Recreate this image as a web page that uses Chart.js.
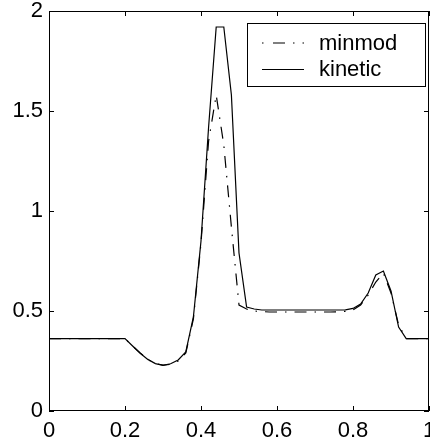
<!DOCTYPE html>
<html>
<head>
<meta charset="utf-8">
<script src="https://cdn.jsdelivr.net/npm/chart.js@4/dist/chart.umd.min.js"></script>
<style>
html,body{margin:0;padding:0;background:#fff;}
#wrap{width:430px;height:446px;position:relative;}
</style>
</head>
<body>
<div id="wrap"><canvas id="c" width="430" height="446"></canvas></div>
<script>
const xs = [0,0.02,0.04,0.06,0.08,0.10,0.12,0.14,0.16,0.18,0.20,
  0.22,0.24,0.26,0.28,0.30,0.32,0.34,0.36,0.38,0.40,
  0.42,0.44,0.46,0.48,0.50,0.52,0.54,0.56,0.58,0.60,
  0.62,0.64,0.66,0.68,0.70,0.72,0.74,0.76,0.78,0.80,
  0.82,0.84,0.86,0.88,0.90,0.92,0.94,0.96,0.98,1.00];
const kinetic = [0.362,0.362,0.362,0.362,0.362,0.362,0.362,0.362,0.362,0.362,0.362,
  0.325,0.289,0.258,0.237,0.228,0.236,0.255,0.295,0.47,0.85,
  1.42,1.92,1.92,1.58,0.79,0.52,0.51,0.505,0.505,0.505,
  0.505,0.505,0.505,0.505,0.505,0.505,0.505,0.505,0.506,0.513,
  0.535,0.59,0.68,0.70,0.60,0.42,0.362,0.362,0.362,0.362];
const minmod = [0.362,0.362,0.362,0.362,0.362,0.362,0.362,0.362,0.362,0.362,0.362,
  0.325,0.29,0.258,0.238,0.229,0.233,0.25,0.29,0.46,0.84,
  1.35,1.58,1.33,0.92,0.53,0.51,0.5,0.497,0.495,0.495,
  0.495,0.495,0.495,0.495,0.495,0.495,0.495,0.496,0.498,0.505,
  0.53,0.58,0.645,0.69,0.59,0.43,0.362,0.362,0.362,0.362];
const xTicks = [0,0.2,0.4,0.6,0.8,1];
const yTicks = [0,0.5,1,1.5,2];
const seriesNames = ['minmod','kinetic'];

const FONT = '"Liberation Sans", Arial, sans-serif';
const DASH = [12,8,1.5,8];

const frame = {
  id:'frame',
  afterDatasetsDraw(chart){
    const {ctx, chartArea:a, scales:{x,y}} = chart;
    ctx.save();
    ctx.strokeStyle='#000'; ctx.lineWidth=1;
    ctx.strokeRect(a.left+0.5, a.top+0.5, a.right-a.left-1, a.bottom-a.top-1);
    ctx.beginPath();
    const L=5;
    xTicks.forEach(v=>{
      const px=Math.round(x.getPixelForValue(v))+0.5;
      ctx.moveTo(px,a.bottom); ctx.lineTo(px,a.bottom-L);
      ctx.moveTo(px,a.top); ctx.lineTo(px,a.top+L);
    });
    yTicks.forEach(v=>{
      const py=Math.round(y.getPixelForValue(v))+0.5;
      ctx.moveTo(a.left,py); ctx.lineTo(a.left+L,py);
      ctx.moveTo(a.right,py); ctx.lineTo(a.right-L,py);
    });
    ctx.stroke();
    // legend
    const bx=247, by=23, bw=178, bh=63;
    ctx.fillStyle='#fff';
    ctx.fillRect(bx,by,bw,bh);
    ctx.strokeRect(bx+0.5,by+0.5,bw,bh);
    ctx.lineWidth=1.2;
    ctx.beginPath(); ctx.setLineDash([1.5,9.5,12,8,1.5,8]);
    ctx.moveTo(262,43); ctx.lineTo(304,43); ctx.stroke();
    ctx.setLineDash([]);
    ctx.beginPath(); ctx.moveTo(262,69.5); ctx.lineTo(304,69.5); ctx.stroke();
    ctx.fillStyle='#000';
    ctx.font='22px '+FONT;
    ctx.textBaseline='middle'; ctx.textAlign='left';
    ctx.fillText(seriesNames[0],319,44);
    ctx.fillText(seriesNames[1],319,70);
    ctx.restore();
  }
};

new Chart(document.getElementById('c'),{
  type:'line',
  data:{
    datasets:[
      {label:seriesNames[0], data:xs.map((v,i)=>({x:v,y:minmod[i]})), borderColor:'#000', borderWidth:1.2, borderDash:DASH, pointRadius:0, tension:0, fill:false},
      {label:seriesNames[1], data:xs.map((v,i)=>({x:v,y:kinetic[i]})), borderColor:'#000', borderWidth:1.2, pointRadius:0, tension:0, fill:false}
    ]
  },
  options:{
    responsive:false, animation:false, events:[],
    layout:{padding:{top:11,right:1,left:0,bottom:0}},
    plugins:{legend:{display:false}, tooltip:{enabled:false}},
    scales:{
      x:{type:'linear', min:0, max:1,
        afterBuildTicks:s=>{s.ticks=xTicks.map(v=>({value:v}));},
        afterFit:s=>{s.height=35; s.paddingLeft=0; s.paddingRight=0;},
        grid:{display:false, drawTicks:false}, border:{display:false},
        ticks:{color:'#000', font:{family:FONT,size:22}, padding:7, maxRotation:0, autoSkip:false,
          callback:v=>String(v)}},
      y:{type:'linear', min:0, max:2,
        afterBuildTicks:s=>{s.ticks=yTicks.map(v=>({value:v}));},
        afterFit:s=>{s.width=49; s.paddingTop=0; s.paddingBottom=0;},
        grid:{display:false, drawTicks:false}, border:{display:false},
        ticks:{color:'#000', font:{family:FONT,size:22}, padding:6, autoSkip:false,
          callback:v=>String(v)}}
    }
  },
  plugins:[frame]
});
</script>
</body>
</html>
